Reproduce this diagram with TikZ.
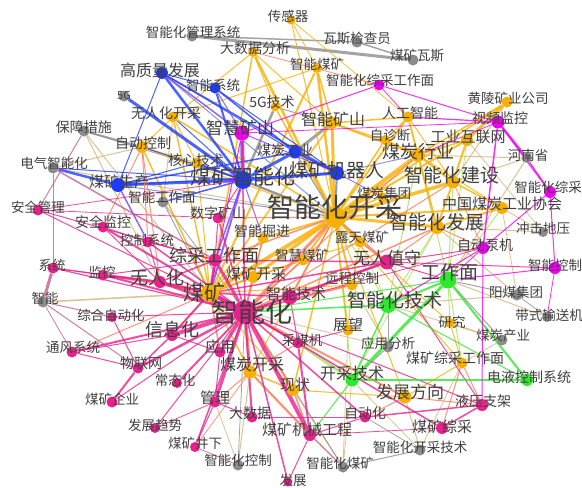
\documentclass[tikz,border=0pt]{standalone}
\usepackage{fontspec}
\setmainfont{Noto Sans CJK SC}
\pgfdeclarelayer{bglayer}
\pgfdeclarelayer{edgelayer}
\pgfdeclarelayer{labellayer}
\pgfsetlayers{bglayer,edgelayer,main,labellayer}
\definecolor{pk}{HTML}{E8218C}
\definecolor{mg}{HTML}{EE00EE}
\definecolor{or}{HTML}{F7B000}
\definecolor{bl}{HTML}{1E3CFF}
\definecolor{gy}{HTML}{8C8C8C}
\definecolor{gn}{HTML}{2EE82E}
\definecolor{pu}{HTML}{7B3FF2}
\definecolor{co}{HTML}{FF7A5C}
\definecolor{tn}{HTML}{D2B47A}
\definecolor{lg}{HTML}{A8E060}
\definecolor{mv}{HTML}{C06090}
\definecolor{bg}{HTML}{7080C0}
\tikzset{
  vtx/.style={circle, inner sep=0pt, draw=none},
  lbl/.style={inner sep=0pt, text=black!75},
}
\newcommand\nd[9]{%
  \node[vtx, fill=#4, minimum size=#5pt] (#1) at (#2,#3) {};
  \begin{pgfonlayer}{labellayer}
  \node[lbl, font=\fontsize{#8}{#8}\selectfont] (#1-t) at (#6,#7) {#9};
  \end{pgfonlayer}}
\newcommand\edges[2]{\foreach \ea/\eb/\ew in {#2}{\draw[draw=#1, line width=\ew pt, opacity=0.8] (\ea) -- (\eb);}}
\begin{document}
\begin{tikzpicture}[x=1pt,y=-1pt]
\useasboundingbox (0,0) rectangle (582,488);
\begin{pgfonlayer}{bglayer}
\fill[white] (0,0) rectangle (582,488);
\end{pgfonlayer}
% pink nodes
\nd{zhc}{245}{312}{pk}{24}{252}{312}{27}{智能化}
\nd{wrh}{160}{282}{pk}{12}{157}{278}{18}{无人化}
\nd{xxh}{172}{335}{pk}{12}{172}{330}{18}{信息化}
\nd{yy}{220}{352}{pk}{11}{220}{347}{15}{应用}
\nd{gl}{215}{402}{pk}{11}{215}{398}{15}{管理}
\nd{dsj}{252}{417}{pk}{11}{250}{413}{14}{大数据}
\nd{mjgc}{310}{435}{pk}{12}{307}{430}{15}{煤矿机械工程}
\nd{zdh}{365}{417}{pk}{11}{365}{413}{14}{自动化}
\nd{cth}{177}{383}{pk}{10}{175}{380}{13.5}{常态化}
\nd{wlw}{138}{368}{pk}{11}{141}{363}{14}{物联网}
\nd{mkqy}{112}{402}{pk}{11}{112}{399}{13.5}{煤矿企业}
\nd{fzqs}{155}{428}{pk}{10}{155}{425}{13.5}{发展趋势}
\nd{mkjx}{195}{447}{pk}{10}{195}{443}{13.5}{煤矿井下}
\nd{fz}{288}{482}{pk}{9}{293}{480}{13.5}{发展}
\nd{cmj}{298}{343}{pk}{11}{302}{340}{13.5}{采煤机}
\nd{yyzj}{482}{405}{pk}{12}{483}{401}{14}{液压支架}
\nd{mkzc}{442}{428}{pk}{12}{442}{427}{15}{煤矿综采}
\nd{zcgzm}{215}{260}{pk}{13}{214}{256}{18}{综采工作面}
\nd{szks}{218}{218}{pk}{11}{218}{213}{14}{数字矿山}
\nd{aqjk}{103}{227}{pk}{11}{103}{222}{14}{安全监控}
\nd{aqgl}{38}{210}{pk}{11}{38}{207}{13.5}{安全管理}
\nd{kzxt}{148}{242}{pk}{11}{147}{240}{13.5}{控制系统}
\nd{jk}{103}{275}{pk}{11}{102}{272}{13.5}{监控}
\nd{xt}{53}{268}{pk}{11}{52}{265}{13.5}{系统}
\nd{zhzdh}{112}{317}{pk}{10}{111}{315}{13.5}{综合自动化}
\nd{tfxt}{72}{352}{pk}{11}{73}{347}{13.5}{通风系统}
\nd{znjs}{290}{297}{pk}{15}{296}{294}{15}{智能技术}
\nd{wrzs}{387}{262}{pk}{15}{387}{258}{17}{无人值守}
% magenta nodes
\nd{zhks}{242}{133}{mg}{15}{240}{128}{17}{智慧矿山}
\nd{zhzcgzm}{379}{85}{mg}{11}{380}{80}{13.5}{智能化综采工作面}
\nd{spjk}{498}{122}{mg}{13}{500}{118}{14}{视频监控}
\nd{zhzc}{550}{192}{mg}{12}{548}{187}{13.5}{智能化综采}
\nd{znkz}{555}{268}{mg}{12}{555}{265}{13.5}{智能控制}
\nd{zdbj}{483}{248}{mg}{12}{485}{245}{14}{自动泵机}
% orange nodes
\nd{zhkc}{335}{217}{or}{22}{335}{207}{27}{智能化开采}
\nd{mk}{210}{293}{or}{18}{204}{292}{21}{煤矿}
\nd{cgq}{291}{20}{or}{9}{288}{16}{13.5}{传感器}
\nd{dsjfx}{253}{52}{or}{10}{255}{48}{14}{大数据分析}
\nd{znmk}{317}{68}{or}{10}{317}{64}{13.5}{智能煤矿}
\nd{g5js}{275}{107}{or}{9}{272}{102}{14}{5G技术}
\nd{wrhkc}{173}{117}{or}{11}{166}{113}{14}{无人化开采}
\nd{rgzn}{408}{117}{or}{11}{410}{113}{14}{人工智能}
\nd{hlky}{507}{102}{or}{11}{508}{98}{13.5}{黄陵矿业公司}
\nd{zdkz}{142}{147}{or}{12}{143}{143}{14}{自动控制}
\nd{znks}{332}{123}{or}{12}{333}{119}{16}{智能矿山}
\nd{zzd}{385}{140}{or}{10}{390}{135}{13.5}{自诊断}
\nd{gyhlw}{467}{140}{or}{12}{468}{137}{15}{工业互联网}
\nd{mthy}{418}{155}{or}{14}{418}{152}{18}{煤炭行业}
\nd{hxjs}{197}{163}{or}{11}{196}{160}{14}{核心技术}
\nd{zhjs}{453}{182}{or}{13}{452}{175}{19}{智能化建设}
\nd{zgmt}{502}{208}{or}{12}{502}{204}{15}{中国煤炭工业协会}
\nd{zhfz}{437}{227}{or}{14}{437}{222}{19}{智能化发展}
\nd{mtjt}{382}{197}{or}{10}{384}{193}{13.5}{煤炭集团}
\nd{ltmk}{360}{242}{or}{11}{362}{237}{13.5}{露天煤矿}
\nd{zhmk}{303}{260}{or}{11}{302}{255}{13.5}{智慧煤矿}
\nd{ycki}{352}{285}{or}{11}{352}{278}{13.5}{远程控制}
\nd{znjj}{263}{238}{or}{11}{262}{231}{14}{智能掘进}
\nd{mkkc}{253}{277}{or}{12}{256}{274}{15}{煤矿开采}
\nd{mtkc}{250}{372}{or}{13}{252}{364}{16}{煤炭开采}
\nd{xz}{293}{390}{or}{12}{295}{385}{15}{现状}
\nd{fzfx}{405}{397}{or}{13}{410}{392}{17}{发展方向}
\nd{zw}{348}{330}{or}{11}{348}{325}{15}{展望}
\nd{yj}{450}{323}{or}{10}{452}{322}{13.5}{研究}
\nd{mkzcgzm}{462}{363}{or}{11}{455}{358}{14}{煤矿综采工作面}
% blue nodes
\nd{mkzhh}{243}{180}{bl}{18}{243}{176}{21}{煤矿智能化}
\nd{gzlfz}{162}{73}{bl}{12}{160}{70}{16}{高质量发展}
\nd{znxt}{215}{88}{bl}{11}{213}{85}{13.5}{智能系统}
\nd{mtgy}{295}{152}{bl}{13}{285}{150}{14}{煤炭工业}
\nd{mkjqr}{337}{173}{bl}{14}{337}{170}{19}{煤矿机器人}
\nd{mksc}{118}{185}{bl}{14}{119}{182}{15}{煤矿生产}
% gray nodes
\nd{zhglxt}{192}{36}{gy}{11}{193}{32}{13.5}{智能化管理系统}
\nd{wsjcy}{357}{42}{gy}{11}{357}{38}{13.5}{瓦斯检查员}
\nd{mkws}{413}{60}{gy}{11}{417}{55}{13.5}{煤矿瓦斯}
\nd{g5}{124}{96}{gy}{11}{124}{95}{11}{5G}
\nd{bzcs}{84}{131}{gy}{11}{84}{127}{14}{保障措施}
\nd{dqznh}{53}{168}{gy}{11}{54}{163}{13.5}{电气智能化}
\nd{zngzm}{163}{202}{gy}{11}{162}{197}{13.5}{智能工作面}
\nd{zn}{43}{302}{gy}{11}{45}{298}{13.5}{智能}
\nd{hns}{527}{158}{gy}{10}{528}{155}{13.5}{河南省}
\nd{cjdy}{543}{232}{gy}{10}{543}{228}{13.5}{冲击地压}
\nd{ymjt}{517}{295}{gy}{11}{516}{292}{13.5}{阳煤集团}
\nd{dssj}{547}{317}{gy}{10}{549}{315}{13.5}{带式输送机}
\nd{mtcy}{502}{340}{gy}{11}{503}{335}{13.5}{煤炭产业}
\nd{yyfx}{388}{347}{gy}{11}{388}{343}{13.5}{应用分析}
\nd{zhkcjs}{420}{450}{gy}{11}{420}{447}{13.5}{智能化开采技术}
\nd{zhmk2}{343}{467}{gy}{11}{340}{463}{13.5}{智能化煤矿}
\nd{zhkz}{238}{465}{gy}{11}{238}{460}{13.5}{智能化控制}
% green nodes
\nd{zhjs2}{388}{305}{gn}{16}{395}{300}{19}{智能化技术}
\nd{gzm}{448}{280}{gn}{17}{450}{272}{19}{工作面}
\nd{kcjs}{352}{380}{gn}{13}{352}{373}{16}{开采技术}
\nd{ykxt}{527}{380}{gn}{12}{529}{377}{14}{电液控制系统}
\begin{pgfonlayer}{edgelayer}
\edges{tn}{bzcs/wrh/1, bzcs/mk/1, zn/mk/1.5, dqznh/zhkc/1, hns/mthy/1, hns/zhjs/1, cjdy/zhfz/1, cjdy/gyhlw/0.8, ymjt/zhfz/1, ymjt/zhjs2/1, dssj/gzm/1, mtcy/zhjs2/0.8, mtcy/yj/1, zhkcjs/fzfx/1, zhkcjs/mkzcgzm/0.8, zhmk2/xz/1, zhmk2/zw/0.8, zhkz/gl/0.8, zhkz/mtkc/1, yyfx/ycki/1, zhmk2/mtkc/0.8, yyfx/zhc/0.8, zngzm/wrhkc/1, dqznh/zdkz/1, hns/gzm/1, hlky/zhjs/1, ymjt/zgmt/0.8, zhkcjs/kcjs/0.8, zhmk2/kcjs/0.8, mtcy/mkzcgzm/0.8, cjdy/zgmt/0.8}
\edges{gy}{zhglxt/mkws/3, zhglxt/wsjcy/1.5, wsjcy/mkws/1.5, znks/mtgy/3, g5js/mkzhh/2.5, g5js/znks/1, bzcs/zdkz/2, bzcs/mkzhh/0.8, mtgy/zhkc/1.5, zhkcjs/zhmk2/1, zhmk2/zhc/0.8, zhkz/zhc/0.8, yyfx/kcjs/1, yyfx/zhjs2/1, ymjt/gzm/1, mtcy/gzm/1, dssj/ymjt/0.8, zngzm/mk/1, zngzm/zhc/0.8, mtgy/mkjqr/1.5, zhkcjs/zdh/0.8}
\edges{lg}{cmj/kcjs/3, gzm/zhjs/1, gzm/mthy/1, gzm/zgmt/1, zhjs2/zhfz/1, kcjs/zhfz/0.8, zhjs2/mthy/1, gzm/yj/1, zhjs2/zhkc/1, kcjs/zhkc/1, gzm/mkzcgzm/1, zhjs2/ltmk/0.8, gzm/gyhlw/0.8}
\edges{or}{zhkc/mk/4, zhkc/mthy/4, zhkc/zhjs/3.5, zhkc/zhfz/3, zhkc/znks/3, zhkc/znmk/2.5, zhkc/dsjfx/2.5, zhkc/mkkc/3, zhkc/rgzn/2, zhkc/gyhlw/2, zhkc/hlky/1.5, zhkc/zgmt/2, zhkc/ltmk/2, zhkc/zhmk/2, zhkc/ycki/2, zhkc/znjj/2, zhkc/g5js/1.5, zhkc/cgq/1, zhkc/zzd/1.5, zhkc/wrhkc/1.5, zhkc/zdkz/1, zhkc/mtjt/1.5, zhkc/hxjs/1.5, zhkc/xz/1.5, zhkc/fzfx/1, zhkc/zw/1.5, zhkc/yj/1, zhkc/mkzcgzm/1, zhkc/mtkc/1, mk/znmk/2, mk/dsjfx/1.5, mk/znks/1.5, mk/mkkc/2, mk/znjj/1.5, mk/zdkz/1.5, mk/wrhkc/1.5, mk/hxjs/1, mk/mtkc/1.5, mk/xz/1, mk/zhmk/1, mk/ycki/1, mthy/zhjs/2, mthy/gyhlw/1.5, mthy/hlky/1.5, mthy/rgzn/2, mthy/zzd/1.5, mthy/zhfz/2, mthy/znks/2, mthy/zgmt/1, hlky/gyhlw/3, gyhlw/zhjs/2, zhjs/zgmt/1.5, zhjs/zhfz/2, zhfz/zgmt/2, znks/rgzn/1.5, znks/zzd/1, znks/znmk/1.5, znks/dsjfx/1, znmk/cgq/0.8, dsjfx/g5js/1, cgq/rgzn/0.8, rgzn/zzd/1, rgzn/zhjs/1, zdkz/wrhkc/1, wrhkc/hxjs/1, zdkz/hxjs/1, wrhkc/znmk/1, wrhkc/dsjfx/1, znjj/mkkc/1, zhmk/ltmk/1, ycki/ltmk/1, mkkc/zhmk/1.5, mtkc/xz/1.5, xz/fzfx/1, fzfx/mkzcgzm/1, yj/mkzcgzm/1, zw/ycki/1}
\edges{bl}{mkzhh/gzlfz/2.5, mkzhh/znxt/2, g5/mkzhh/3, mkzhh/mksc/3, mkzhh/mtgy/3, mkzhh/mkjqr/3, mkzhh/wrhkc/1, mkzhh/hxjs/1.5, mkzhh/zngzm/1.5, mkzhh/dqznh/1, mkzhh/zdkz/1, gzlfz/znxt/1, gzlfz/mkjqr/1.5, gzlfz/mksc/1, znxt/mkjqr/1, znxt/mtgy/1.5, mksc/dqznh/2.5, mksc/mtgy/1.5, mksc/mkjqr/1, mtgy/mkjqr/2, mksc/hxjs/1, gzlfz/mtgy/1}
\edges{bg}{mkjqr/zhkc/2, mkzhh/zhkc/2, mkjqr/mthy/1, mksc/zhkc/1, gzlfz/zhkc/1}
\edges{pu}{zhks/mkzhh/4, zhks/gzlfz/1.5, mksc/kzxt/1.5, mkzhh/mk/2, mkzhh/zcgzm/1.5, zhks/znxt/1, zhks/mkjqr/1, mkzhh/znjj/1, mkjqr/mtjt/0.8}
\edges{co}{zhc/zhkc/3, zhc/mkkc/2, zhc/zhmk/1.5, zhc/mtkc/3, zhc/xz/2, zhc/ycki/1.5, zhc/fzfx/2, zhc/zhjs/1, zhc/zhfz/1.5, zhc/mthy/1, zhc/znjj/1.5, mk/wrh/2.5, mk/xxh/2, mk/zcgzm/2.5, mk/yy/1.5, mk/jk/1.5, mtkc/mjgc/2, mtkc/gl/1, mtkc/cmj/1, xz/mjgc/1.5, fzfx/yyzj/1, fzfx/zdh/1, mkzcgzm/yyzj/1, mkzcgzm/mkzc/1, zhkc/wrzs/1.5, zhkc/znjs/1.5, zhkc/zcgzm/1.5, zdkz/aqjk/1, zdkz/kzxt/1, zdkz/wrh/1, tfxt/mk/1, zhkc/szks/1, wrzs/ltmk/1.5, wrzs/zhfz/1, ycki/znjs/1, zhfz/zdbj/1, zhjs/zdbj/0.8, mkjx/mtkc/0.8, dsjfx/zhzcgzm/0.8}
\edges{mv}{zn/xt/3, xt/dqznh/1, bzcs/aqgl/1, zn/zhzdh/1, zn/wlw/1, zn/tfxt/0.8, dqznh/zcgzm/1.5, zhkz/mkjx/0.8, zhmk2/mjgc/1}
\edges{pk}{zhc/mk/4, zhc/wrh/3, zhc/xxh/4, zhc/yy/3, zhc/gl/3, zhc/mjgc/4, zhc/zcgzm/3, zhc/dsj/2, zhc/cth/2, zhc/wlw/2.5, zhc/cmj/2, zhc/zdh/1.5, zhc/mkjx/1.5, zhc/kzxt/1.5, zhc/aqjk/2, zhc/szks/1.5, zhc/jk/2, zhc/xt/1.2, zhc/tfxt/2, zhc/zhzdh/1, zhc/mkqy/1, zhc/fzqs/1, zhc/fz/1.5, zhc/yyzj/1, zhc/mkzc/1.5, zhc/znjs/2, zhc/wrzs/1.5, zhc/aqgl/1, zhc/zhks/1.5, wrh/mk/2, wrh/jk/2.5, wrh/xt/1, wrh/zcgzm/1.5, wrh/aqjk/1, wrh/kzxt/1, xxh/wlw/1.5, xxh/tfxt/1, xxh/mk/1.5, xxh/yy/1, mkqy/wlw/2, wlw/zhzdh/1, tfxt/wlw/1, gl/mkjx/1, gl/dsj/1, gl/fzqs/0.8, gl/yy/1, mjgc/fz/1, mjgc/zdh/1, mjgc/mkzc/0.8, mjgc/cmj/2, zdh/yyzj/1.5, mkzc/yyzj/1.5, yyzj/wrzs/1, zdh/dsj/1, aqgl/zcgzm/1, aqgl/mkzhh/0.8, aqjk/kzxt/1, xt/jk/1, jk/zcgzm/1, znjs/wrzs/2.5, znjs/mk/1.5, wrzs/zdbj/1, wrzs/zcgzm/1.5, wrzs/mk/1.5, wrzs/znkz/1, wrzs/gzm/1, szks/zcgzm/1, szks/mkzhh/1, zcgzm/mk/2, zcgzm/kzxt/1, cmj/znjs/1, cmj/zw/1, zhc/zdbj/0.8, aqgl/szks/0.8}
\edges{gn}{gzm/kcjs/3, zhjs2/gzm/2, gzm/ykxt/2, kcjs/ykxt/1.5, zhjs2/kcjs/1.5, zhjs2/ykxt/1, gzm/zhc/1, zhjs2/zhc/1.5, kcjs/mjgc/1}
\edges{mg}{zhks/zhzcgzm/1, zhzcgzm/spjk/1, zhzcgzm/rgzn/0.8, spjk/hns/2, spjk/zhzc/1.5, spjk/zdbj/1.5, spjk/rgzn/1.2, zhzc/znkz/1, zhzc/zdbj/1, zhzc/hns/1, zdbj/yyzj/1, znkz/dssj/0.8, zdbj/zhjs2/1, zdbj/gzm/0.8, zhks/mk/1, spjk/mthy/0.8, zhks/spjk/0.8, znkz/gzm/1}
\end{pgfonlayer}
\end{tikzpicture}
\end{document}
